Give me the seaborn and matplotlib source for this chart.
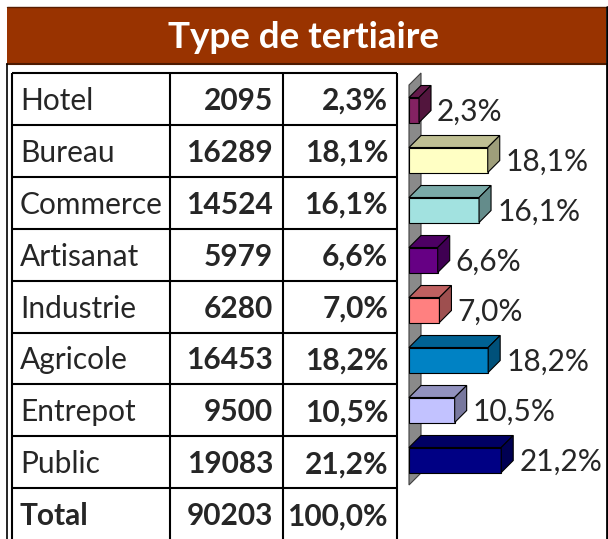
import matplotlib
matplotlib.use("Agg")
import matplotlib.pyplot as plt
from matplotlib.patches import Polygon, Rectangle
from matplotlib.colors import to_rgb
import seaborn as sns
import pandas as pd

types = ["Hotel", "Bureau", "Commerce", "Artisanat", "Industrie", "Agricole", "Entrepot", "Public"]
counts = [2095, 16289, 14524, 5979, 6280, 16453, 9500, 19083]
shares = [2.3, 18.1, 16.1, 6.6, 7.0, 18.2, 10.5, 21.2]
total_label = "Total"
total_count = 90203
total_share = 100.0
title = "Type de tertiaire"

front_colors = ["#842262", "#FFFFC4", "#A2E2E0", "#660084",
                "#FF8080", "#0082C4", "#C2C2FF", "#000084"]

W, H = 608, 539
FS = 21.5


def fmt_pct(v):
    return f"{v:.1f}%".replace(".", ",")


def shade(c, k):
    r, g, b = to_rgb(c)
    return (r * k, g * k, b * k)


sns.set_theme(style="white")
plt.rcParams["font.family"] = ["Lato", "DejaVu Sans"]

fig = plt.figure(figsize=(W / 100, H / 100), dpi=100)

# background layer in pixel coords: title band + table
bg = fig.add_axes([0, 0, 1, 1])
bg.set_xlim(0, W)
bg.set_ylim(H, 0)
bg.axis("off")

bg.add_patch(Rectangle((7, 7), 599, 57, facecolor="#993300", edgecolor="none"))
bg.plot([7, 606], [7, 7], color="#5a1e00", lw=1)
bg.plot([7, 606], [64, 64], color="#4d1a00", lw=1.5)
bg.plot([607, 607], [7, H], color="black", lw=2)
bg.plot([7, 7], [64, H], color="black", lw=1.2)
bg.text(303, 38, title, color="white", fontsize=26.5, fontweight="bold",
        ha="center", va="center")

col_x = [12, 170, 283, 397]
row_top = 73
row_h = 51.9
n_rows = len(types) + 1
for x in col_x:
    bg.plot([x, x], [row_top, H + 5], color="black", lw=1.5, solid_capstyle="butt")
for k in range(n_rows + 1):
    y = row_top + k * row_h
    bg.plot([col_x[0], col_x[-1]], [y, y], color="black", lw=1.5, solid_capstyle="butt")

rows = list(zip(types, counts, shares)) + [(total_label, total_count, total_share)]
for k, (name, cnt, pct) in enumerate(rows):
    base = row_top + (k + 0.5) * row_h + 11
    bold_name = "bold" if name == total_label else "normal"
    bg.text(20, base, name, fontsize=FS, fontweight=bold_name, ha="left", va="baseline")
    bg.text(273, base, str(cnt), fontsize=FS, fontweight="bold", ha="right", va="baseline")
    bg.text(388, base, fmt_pct(pct), fontsize=FS, fontweight="bold", ha="right", va="baseline")

# 3D-looking horizontal bars
x0_px, x1_px = 409, 605
y0_px, y1_px = 85, 485
ax = fig.add_axes([x0_px / W, 1 - y1_px / H, (x1_px - x0_px) / W, (y1_px - y0_px) / H])
ax.patch.set_alpha(0)

df = pd.DataFrame({"type": types, "share": shares})
sns.barplot(data=df, x="share", y="type", hue="type", palette=front_colors,
            orient="h", width=0.5, saturation=1, edgecolor="black", linewidth=0.8,
            legend=False, ax=ax, zorder=2)

xmax = (x1_px - x0_px) / 4.35
ax.set_xlim(0, xmax)
ax.set_ylim(len(types) - 0.5, -0.5)
ax.axis("off")

depth_px = 12
dx = depth_px * xmax / (x1_px - x0_px)
dy = depth_px * len(types) / (y1_px - y0_px)
pad = 6 * xmax / (x1_px - x0_px)

# grey side wall
ax.add_patch(Polygon([(0, -0.5), (0, len(types) - 0.5), (dx, len(types) - 0.5 - dy), (dx, -0.5 - dy)],
                     closed=True, facecolor="#8a8a8a", edgecolor="#404040", lw=0.8,
                     zorder=1, clip_on=False))

bars = sorted([p for p in ax.patches if isinstance(p, Rectangle)], key=lambda p: p.get_y())
for bar, col, pct in zip(bars, front_colors, shares):
    bx, by = bar.get_x(), bar.get_y()
    bw, bh = bar.get_width(), bar.get_height()
    top = [(bx, by), (bx + bw, by), (bx + bw + dx, by - dy), (bx + dx, by - dy)]
    side = [(bx + bw, by), (bx + bw, by + bh), (bx + bw + dx, by + bh - dy), (bx + bw + dx, by - dy)]
    ax.add_patch(Polygon(top, closed=True, facecolor=shade(col, 0.75), edgecolor="black",
                         lw=0.8, zorder=3, clip_on=False))
    ax.add_patch(Polygon(side, closed=True, facecolor=shade(col, 0.62), edgecolor="black",
                         lw=0.8, zorder=3, clip_on=False))
    ax.text(bx + bw + dx + pad, by + bh / 2 + 0.03, fmt_pct(pct), fontsize=FS,
            ha="left", va="center", zorder=4, clip_on=False)

fig.savefig("out.png", dpi=100)
